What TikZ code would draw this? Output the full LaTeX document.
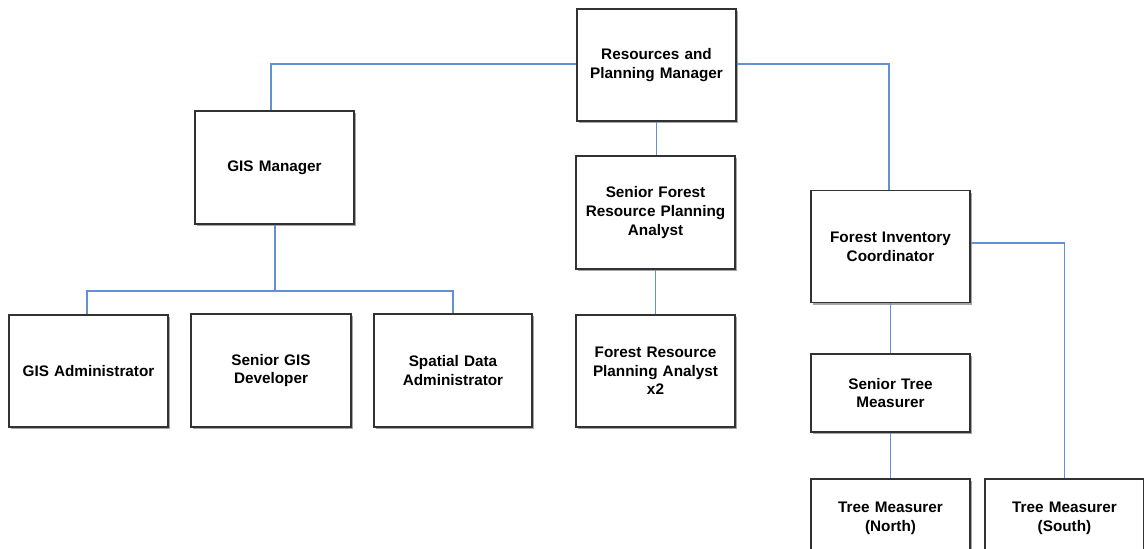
\documentclass[tikz,border=0pt]{standalone}
\usepackage{fontspec}
\setmainfont{Liberation Sans}
\usetikzlibrary{shadows}
\definecolor{conn}{RGB}{100,143,210}
\definecolor{boxline}{RGB}{50,50,50}
\tikzset{
  orgbox/.style={draw=boxline, line width=1.3pt, fill=white, rectangle,
    minimum width=159pt, minimum height=112pt, inner sep=2pt,
    align=center, text width=154pt,
    font=\fontsize{15.3}{18.7}\selectfont\bfseries,
    drop shadow={shadow xshift=2.2pt, shadow yshift=-2.2pt, fill=black, opacity=0.35}},
  smallbox/.style={orgbox, minimum height=78pt},
  link/.style={draw=conn, line width=1.15pt}
}
\begin{document}
\begin{tikzpicture}[x=1pt,y=-1pt]
\clip (0,0) rectangle (1144,549);
\fill[white] (0,0) rectangle (1144,549);
\node[orgbox] (rpm) at (656.5,65) {Resources and\\Planning Manager};
\node[orgbox, minimum height=113pt] (gis) at (274.5,167.5) {GIS Manager};
\node[orgbox, minimum height=113pt] (sfrpa) at (655.5,212.5) {Senior Forest\\Resource Planning\\Analyst};
\node[orgbox] (fic) at (890.5,246.5) {Forest Inventory\\Coordinator};
\node[orgbox] (gisa) at (88.5,371) {GIS Administrator};
\node[orgbox, minimum width=160pt, minimum height=113pt] (sgd) at (271,370.5) {Senior GIS\\Developer};
\node[orgbox, minimum width=158pt, minimum height=113pt] (sda) at (453,370.5) {Spatial Data\\Administrator};
\node[orgbox] (frpa) at (655.5,371) {Forest Resource\\Planning Analyst\\x2};
\node[smallbox] (stm) at (890.5,393) {Senior Tree\\Measurer};
\node[smallbox] (tmn) at (890.5,518) {Tree Measurer\\(North)};
\node[smallbox] (tms) at (1064.5,518) {Tree Measurer\\(South)};
\coordinate (gj) at (275,291);
\draw[link] ([yshift=1pt]rpm.west) -| ([xshift=-3.5pt]gis.north);
\draw[link] ([yshift=1pt]rpm.east) -| ([xshift=-1.5pt]fic.north);
\draw[link] (rpm.south) -- (sfrpa.north -| rpm.south);
\draw[link] (sfrpa.south) -- (frpa.north);
\draw[link] ([xshift=0.5pt]gis.south) -- (gj);
\draw[link] ([xshift=-1.5pt]gisa.north) |- (gj) -| (sda.north);
\draw[link] ([yshift=3.5pt]fic.east) -| (tms.north);
\draw[link] (fic.south) -- (stm.north);
\draw[link] (stm.south) -- (tmn.north);
\end{tikzpicture}
\end{document}
